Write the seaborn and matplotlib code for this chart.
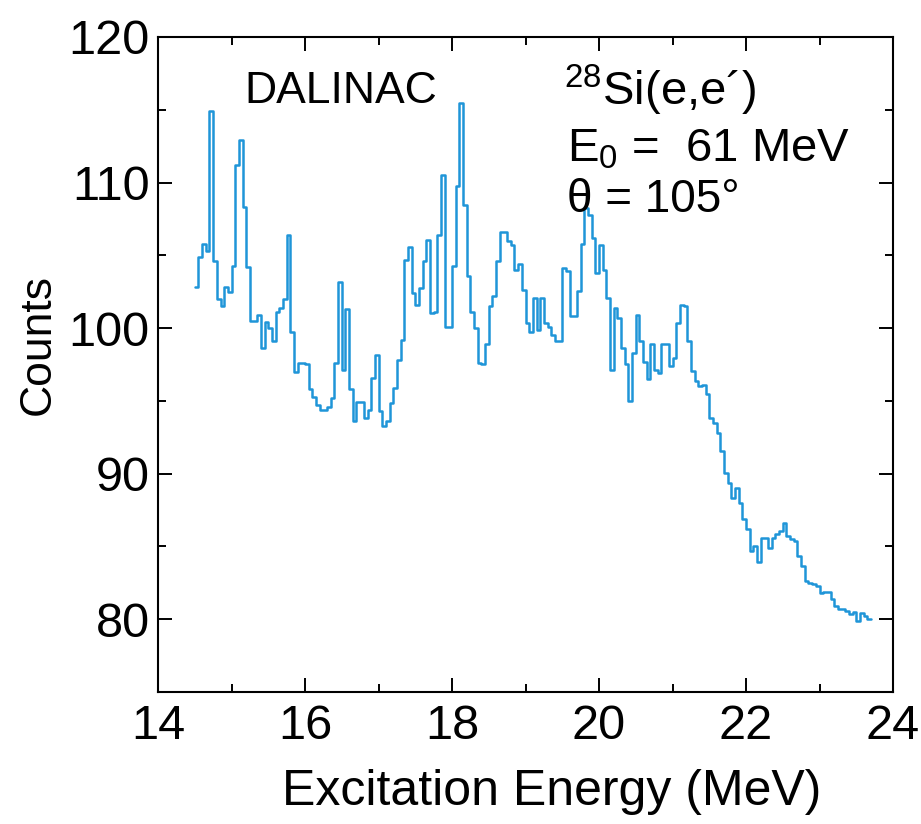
import numpy as np
import pandas as pd
import matplotlib
matplotlib.use("Agg")
import matplotlib.pyplot as plt
from matplotlib.ticker import MultipleLocator
import seaborn as sns

# 28Si(e,e') spectrum, 0.05 MeV bins starting at 14.50 MeV
bin_start = 14.50
bin_width = 0.05
counts = [
    102.8, 104.9, 105.8, 105.3, 114.9, 104.6, 102.0, 101.5, 102.8, 102.5,
    104.3, 111.2, 112.9, 108.3, 104.2, 100.5, 100.5, 100.9, 98.6, 100.4,
    100.0, 99.1, 101.1, 101.4, 102.0, 106.4, 99.7, 97.0, 97.6, 97.6,
    97.5, 95.8, 95.3, 94.75, 94.4, 94.4, 94.6, 95.2, 97.6, 103.2,
    97.15, 101.3, 95.8, 93.6, 94.9, 94.9, 93.84, 94.4, 96.58, 98.18,
    94.3, 93.26, 93.6, 94.87, 95.9, 97.84, 99.2, 104.7, 105.6, 102.4,
    101.6, 102.75, 104.6, 106.07, 101.04, 101.1, 106.4, 110.5, 100.1, 100.1,
    104.24, 109.73, 115.45, 108.47, 103.55, 101.1, 100.0, 97.6, 97.5, 98.9,
    101.5, 102.2, 104.6, 106.6, 106.6, 105.96, 105.7, 104.0, 104.4, 102.64,
    100.36, 99.7, 102.07, 99.9, 102.1, 100.36, 100.1, 99.5, 99.1, 99.1,
    104.13, 103.9, 100.8, 100.8, 102.53, 105.8, 108.25, 107.8, 106.2, 103.8,
    105.7, 104.0, 102.07, 97.15, 101.4, 100.7, 98.64, 97.5, 94.98, 98.3,
    100.93, 99.1, 97.7, 96.47, 98.9, 97.15, 96.9, 98.9, 98.9, 97.4,
    97.95, 100.36, 101.6, 101.5, 99.1, 97.04, 96.4, 96.0, 96.1, 95.44,
    93.84, 93.5, 92.8, 91.55, 90.06, 89.38, 88.35, 89.0, 88.0, 86.86,
    86.2, 84.7, 85.0, 83.9, 85.6, 85.6, 84.9, 85.6, 85.83, 86.06,
    86.6, 85.7, 85.49, 85.37, 84.34, 83.66, 82.63, 82.5, 82.4, 82.3,
    81.83, 81.9, 81.9, 81.37, 80.9, 80.7, 80.7, 80.55, 80.34, 80.5,
    79.9, 80.45, 80.2, 80.0,
]

x_ticks = [14, 16, 18, 20, 22, 24]
y_ticks = [80, 90, 100, 110, 120]

edges = bin_start + bin_width * np.arange(len(counts) + 1)
spectrum = pd.DataFrame({
    "energy": edges,
    "counts": counts + [counts[-1]],
})

sns.set_style("ticks")
plt.rcParams["font.family"] = ["Liberation Sans", "DejaVu Sans"]
plt.rcParams["mathtext.fontset"] = "custom"
plt.rcParams["mathtext.rm"] = "Liberation Sans"
plt.rcParams["mathtext.it"] = "Liberation Sans:italic"
for key in ("text.color", "axes.labelcolor", "xtick.color", "ytick.color",
            "axes.edgecolor"):
    plt.rcParams[key] = "black"

fig = plt.figure(figsize=(9.21, 8.24), dpi=100)
ax = fig.add_axes([0.1716, 0.1602, 0.7980, 0.7949])

sns.lineplot(data=spectrum, x="energy", y="counts", drawstyle="steps-post",
             estimator=None, sort=False, color="#1f95d8", linewidth=1.8, ax=ax)

ax.set_xlim(14, 24)
ax.set_ylim(75, 120)
ax.set_xticks(x_ticks)
ax.set_yticks(y_ticks)
ax.xaxis.set_minor_locator(MultipleLocator(1))
ax.yaxis.set_minor_locator(MultipleLocator(5))
ax.tick_params(which="both", direction="in", top=True, right=True, width=1.4)
ax.tick_params(which="major", length=10, labelsize=35)
ax.tick_params(which="minor", length=6)
ax.tick_params(axis="x", which="major", pad=9)
ax.tick_params(axis="y", which="major", pad=6)
for side in ax.spines.values():
    side.set_linewidth(1.5)

ax.set_xlabel("Excitation Energy (MeV)", fontsize=36)
ax.xaxis.set_label_coords(0.536, -0.118)
ax.set_ylabel("Counts", fontsize=32)
ax.yaxis.set_label_coords(-0.135, 0.53)

ax.text(0.118, 0.899, "DALINAC", transform=ax.transAxes, fontsize=32,
        ha="left", va="baseline")
ax.text(0.552, 0.896, r"$^{\mathrm{28}}$Si(e,e´)", transform=ax.transAxes,
        fontsize=34, ha="left", va="baseline")
ax.text(0.556, 0.810, r"E$_{\mathrm{0}}$ =  61 MeV", transform=ax.transAxes,
        fontsize=34, ha="left", va="baseline")
ax.text(0.556, 0.733, "θ = 105°", transform=ax.transAxes, fontsize=33,
        ha="left", va="baseline")

fig.savefig("out.png", dpi=100)
